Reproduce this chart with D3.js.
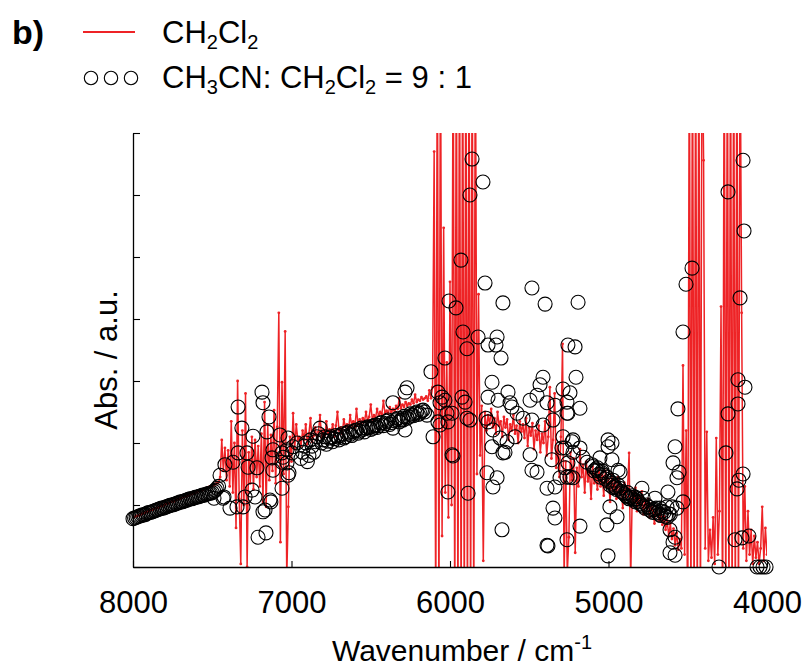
<!DOCTYPE html>
<html><head><meta charset="utf-8">
<script src="https://cdn.jsdelivr.net/npm/d3@7"></script>
<style>body{margin:0;background:#fff} svg{display:block} text{font-family:"Liberation Sans",Arial,Helvetica,sans-serif;fill:#000}</style>
</head><body><svg id="chart" width="804" height="668"></svg>
<script>
// ---------- data ----------
const xTicks = [8000, 7000, 6000, 5000, 4000];
const yTicks = [0, 1, 2, 3, 4, 5, 6, 7];
const redStart = 8000, redEnd = 4000, redStep = 10; // sampling grid of the CH2Cl2 spectrum (cm-1)

// CH2Cl2 spectrum values, in order of decreasing wavenumber
const red8000to7460 = [0.80,0.81,0.82,0.83,0.83,0.85,0.86,0.87,0.88,0.89,
 0.90,0.92,0.92,0.93,0.95,0.95,0.96,0.98,0.99,0.99,
 1.01,1.02,1.03,1.03,1.05,1.06,1.06,1.08,1.09,1.10,
 1.10,1.12,1.13,1.14,1.14,1.16,1.17,1.18,1.19,1.19,
 1.21,1.22,1.23,1.24,1.24,1.26,1.27,1.28,1.29,1.30,
 1.31,1.32,1.34,1.35,1.37];
const red7450to6960 = [1.45,2.05,1.55,1.92,1.40,1.88,1.30,2.35,1.20,2.00,
 0.63,3.00,1.10,0.05,2.20,1.00,2.80,0.00,1.85,1.35,
 2.10,1.25,2.05,1.45,1.95,1.30,2.15,1.05,2.66,0.97,
 2.30,1.40,2.13,1.55,2.53,1.35,2.26,4.10,0.40,2.98,
 1.50,3.80,-0.20,0.97,2.10,1.70,2.48,1.90,2.30,2.05];
const red6950to6110 = [2.10,1.95,2.20,2.05,2.30,1.98,2.15,2.40,2.02,2.12,
 2.25,2.05,2.18,2.45,2.08,2.20,2.12,2.35,2.15,2.22,
 2.18,2.30,2.10,2.28,2.50,2.20,2.25,2.15,2.38,2.26,
 2.30,2.22,2.45,2.28,2.35,2.25,2.55,2.30,2.38,2.32,
 2.40,2.34,2.50,2.36,2.42,2.62,2.38,2.45,2.40,2.55,
 2.44,2.50,2.46,2.68,2.48,2.52,2.47,2.58,2.50,2.55,
 2.52,2.60,2.55,2.72,2.56,2.62,2.58,2.66,2.60,2.64,
 2.62,2.70,2.64,2.78,2.66,2.70,2.68,2.74,2.70,2.72,
 2.75,2.68,2.85,2.72,2.90];
const red6100to5860 = [6.7,-1,9,-1,9,0.5,5.47,1.2,3.3,0.8,
 4.6,1.0,9,-1,9,-1,9,-1,9,-1,
 9,-1,9,-1,9];
const red5850to4540 = [-1,9,1.5,4.4,1.8,2.6,0.1,2.5,2.2,2.45,
 2.30,2.55,2.25,2.40,2.15,2.50,2.28,2.35,2.10,2.42,
 2.25,2.38,2.05,2.30,2.20,2.45,2.15,2.28,2.00,2.35,
 2.18,2.30,2.08,2.40,1.95,2.25,2.12,2.32,1.90,2.20,
 2.05,2.28,1.85,2.15,2.00,2.35,1.80,2.10,2.90,1.75,
 2.05,2.80,1.60,1.95,1.45,2.10,3.60,-0.2,1.70,-0.1,
 0.48,1.85,1.40,1.75,0.23,1.60,1.30,1.90,1.45,1.65,
 1.20,1.70,1.38,1.55,1.10,1.62,1.35,1.50,1.25,1.58,
 1.30,1.48,1.15,1.55,1.28,1.42,1.05,1.50,1.22,1.38,
 1.10,1.45,1.18,1.30,0.95,1.36,1.12,1.25,1.84,-0.2,
 1.20,1.05,1.28,0.90,1.15,1.00,1.22,0.85,1.08,0.95,
 1.10,0.80,1.02,0.92,0.70,0.98,0.85,0.75,0.95,0.68,
 0.82,0.60,0.75,0.50,0.70,0.45,0.62,0.35,0.55,0.28,
 0.45,0.30];
const red4530to4400 = [3.25,0.2,2.2,-1,9,-1,9,-1,9,-1,9,-1,9,6.56];
const red4390to4290 = [0.3,2.18,0.1,0.6,0.15,0.8,0.05,2.08,0.2,0.9,4.2];
const red4280to4160 = [-1,9,-1,9,-1,9,-1,9,-1,9,-1,9,4.1];
const red4150to4000 = [0.3,1.3,0.1,0.9,0.2,0.6,0.05,0.5,0.15,0.4,0.05,0.3,0.97,0.1,0.63,0.2];

// CH3CN : CH2Cl2 = 9 : 1 points  [wavenumber, value]
const circles8000to7460 = [[8000,0.78],[7990,0.79],[7980,0.80],[7970,0.81],[7960,0.82],[7950,0.83],[7940,0.84],
 [7930,0.84],[7920,0.85],[7910,0.87],[7900,0.88],[7890,0.88],[7880,0.89],[7870,0.90],[7860,0.91],[7850,0.92],
 [7840,0.93],[7830,0.94],[7820,0.95],[7810,0.95],[7800,0.96],[7790,0.97],[7780,0.98],[7770,0.99],[7760,1.00],
 [7750,1.00],[7740,1.01],[7730,1.02],[7720,1.03],[7710,1.04],[7700,1.05],[7690,1.05],[7680,1.06],[7670,1.07],
 [7660,1.08],[7650,1.09],[7640,1.10],[7630,1.10],[7620,1.11],[7610,1.12],[7600,1.13],[7590,1.13],[7580,1.14],
 [7570,1.15],[7560,1.16],[7550,1.16],[7540,1.17],[7530,1.18],[7520,1.19],[7510,1.19],[7500,1.20],[7490,1.22],
 [7480,1.24],[7470,1.27],[7460,1.30]];
const circles7490to6960 = [[7489,1.11],[7451,1.48],[7432,1.11],[7426,1.13],[7420,1.65],[7388,0.95],[7369,1.69],
 [7344,0.97],[7337,2.58],[7337,1.84],[7313,2.24],[7306,0.97],[7293,1.13],[7281,1.84],[7274,1.61],[7249,1.24],
 [7243,2.11],[7230,1.13],[7218,1.60],[7211,0.48],[7186,2.82],[7180,2.65],[7180,0.89],[7167,0.92],[7161,0.55],
 [7155,2.18],[7142,2.42],[7136,1.08],[7130,1.05],[7123,1.76],[7117,1.89],[7117,1.56],[7073,2.13],[7060,1.84],
 [7060,1.69],[7060,1.27],[7054,1.77],[7028,1.68],[7028,1.89],[7022,2.08],[7022,1.48],[7016,1.52],[6997,1.84],
 [6991,1.94],[6965,2.00]];
const circles6940to6160 = [[6940,1.75],[6930,1.85],[6920,1.95],[6910,2.00],[6900,1.70],[6890,1.80],[6880,2.05],
 [6870,1.95],[6860,1.85],[6850,2.02],[6840,2.10],[6830,2.15],[6820,2.24],[6810,2.00],[6800,2.05],[6790,2.10],
 [6780,1.98],[6770,2.03],[6760,2.08],[6750,2.10],[6740,2.02],[6730,2.07],[6720,2.12],[6710,2.10],[6700,2.05],
 [6690,2.12],[6680,2.15],[6670,2.08],[6660,2.10],[6650,2.16],[6640,2.18],[6630,2.14],[6620,2.12],[6610,2.18],
 [6600,2.20],[6590,2.21],[6580,2.16],[6570,2.19],[6560,2.24],[6550,2.22],[6540,2.18],[6530,2.24],[6520,2.26],
 [6510,2.25],[6500,2.22],[6490,2.27],[6486,2.24],[6480,2.28],[6470,2.29],[6460,2.25],[6450,2.28],[6440,2.32],
 [6430,2.33],[6420,2.28],[6410,2.31],[6400,2.35],[6390,2.37],[6380,2.30],[6370,2.33],[6360,2.24],[6360,2.65],
 [6350,2.36],[6340,2.38],[6330,2.40],[6320,2.34],[6310,2.37],[6300,2.40],[6297,2.37],[6290,2.43],[6284,2.21],
 [6284,2.82],[6271,2.89],[6270,2.40],[6260,2.42],[6250,2.47],[6240,2.45],[6230,2.44],[6220,2.48],[6210,2.50],
 [6200,2.46],[6190,2.48],[6180,2.52],[6170,2.53],[6160,2.50]];
const circles6150to5770 = [[6145,2.45],[6120,3.15],[6107,2.10],[6076,2.82],[6076,2.34],[6063,2.65],[6063,2.29],
 [6050,2.74],[6032,3.37],[6032,2.69],[6019,2.48],[6013,2.34],[6013,1.21],[6006,4.29],[5987,2.48],[5987,1.81],
 [5981,1.79],[5962,4.18],[5931,4.95],[5924,2.74],[5918,3.79],[5905,2.66],[5893,3.52],[5893,2.40],[5886,1.19],
 [5874,2.37],[5874,6.00],[5861,6.58],[5823,3.71],[5792,6.21],[5779,4.58],[5773,2.40]];
const circles5770to4540 = [[5767,1.52],[5760,3.58],[5760,2.74],[5760,2.34],[5735,2.98],[5735,1.94],[5729,2.21],
 [5729,1.29],[5710,3.58],[5703,3.71],[5703,1.44],[5697,2.69],[5684,2.08],[5678,3.37],[5672,0.60],[5666,4.26],
 [5666,1.84],[5653,1.85],[5640,2.02],[5634,2.82],[5621,2.65],[5609,2.58],[5590,2.10],[5577,2.48],[5539,2.40],
 [5495,2.69],[5495,1.81],[5483,4.50],[5483,2.37],[5483,1.56],[5451,2.77],[5451,1.53],[5432,2.94],[5413,3.06],
 [5413,2.29],[5400,4.24],[5388,2.65],[5388,1.27],[5388,0.35],[5382,0.34],[5357,1.73],[5350,2.37],[5350,0.95],
 [5338,2.61],[5338,1.29],[5338,0.79],[5306,1.44],[5294,1.92],[5287,2.87],[5287,2.10],[5274,1.92],[5274,1.60],
 [5262,2.66],[5262,2.48],[5262,1.45],[5262,0.44],[5256,3.58],[5256,2.48],[5256,1.68],[5243,2.81],[5243,1.45],
 [5230,2.02],[5224,2.05],[5224,1.85],[5224,1.44],[5211,3.55],[5205,3.06],[5192,4.27],[5180,2.56],[5180,1.92],
 [5180,0.66],[5161,1.77],[5136,1.69],[5104,1.65],[5100,1.62],[5090,1.55],[5080,1.58],[5073,1.56],[5070,1.60],
 [5060,1.50],[5054,1.76],[5050,1.45],[5041,1.52],[5040,1.55],[5030,1.48],[5020,1.42],[5010,1.45],[5010,0.68],
 [5003,2.05],[5003,1.94],[5003,0.18],[5000,1.38],[4991,0.97],[4990,1.32],[4980,1.35],[4978,2.00],[4978,1.73],
 [4972,1.40],[4970,1.28],[4960,1.30],[4959,1.29],[4950,1.25],[4946,0.81],[4940,1.56],[4940,1.32],[4930,1.27],
 [4927,1.53],[4920,1.22],[4910,1.20],[4900,1.18],[4890,1.15],[4883,1.13],[4880,1.20],[4870,1.10],[4864,1.13],
 [4860,1.12],[4850,1.15],[4840,1.08],[4833,1.13],[4830,1.05],[4820,1.10],[4810,1.05],[4800,1.02],[4790,1.00],
 [4789,1.27],[4782,1.11],[4780,0.98],[4770,0.95],[4760,1.00],[4750,0.97],[4740,0.92],[4730,0.90],[4720,0.88],
 [4719,0.92],[4710,0.93],[4707,1.11],[4700,0.95],[4690,0.88],[4680,0.85],[4675,0.95],[4670,0.83],[4660,0.90],
 [4650,0.88],[4640,0.82],[4631,0.97],[4630,0.80],[4625,1.21],[4620,0.86],[4612,0.60],[4612,0.23],[4610,0.85],
 [4599,0.97],[4593,1.68],[4593,0.40],[4580,1.94],[4580,0.48],[4580,0.19],[4568,1.44],[4568,0.95],[4562,2.55],
 [4555,1.53]];
const circles4530to4000 = [[4530,3.79],[4530,1.05],[4511,4.56],[4473,4.82],[4303,0.00],[4259,1.84],[4246,6.05],
 [4246,2.47],[4202,0.44],[4189,1.26],[4183,3.02],[4183,2.63],[4177,1.40],[4170,4.34],[4158,0.47],[4151,6.56],
 [4151,1.50],[4145,5.42],[4139,2.90],[4114,0.50],[4063,0.00],[4044,0.00],[4025,0.00],[4006,0.00]];

const legendLine = "CH2Cl2";
const legendCircles = "CH3CN: CH2Cl2 = 9 : 1";

// ---------- build ----------
const redValues = [].concat(red8000to7460, red7450to6960, red6950to6110, red6100to5860,
  red5850to4540, red4530to4400, red4390to4290, red4280to4160, red4150to4000);
const redWn = d3.range(redStart, redEnd - 1, -redStep);
const redData = redWn.map((w, i) => [w, redValues[i]]).filter(d => d[1] !== undefined);
const circleData = [].concat(circles8000to7460, circles7490to6960, circles6940to6160,
  circles6150to5770, circles5770to4540, circles4530to4000);

const pLeft = 133, pRight = 767, pTop = 133, pBottom = 567;
const RED = "#ee2326";

const svg = d3.select("#chart");
const x = d3.scaleLinear().domain([8000, 4000]).range([pLeft, pRight]);
const y = d3.scaleLinear().domain([0, 7]).range([pBottom, pTop]);

svg.append("defs").append("clipPath").attr("id", "plotclip")
  .append("rect").attr("x", pLeft).attr("y", pTop).attr("width", pRight - pLeft).attr("height", pBottom - pTop);

const plot = svg.append("g").attr("clip-path", "url(#plotclip)");
plot.append("path").datum(redData)
  .attr("d", d3.line().x(d => x(d[0])).y(d => y(d[1])))
  .attr("fill", "none").attr("stroke", RED).attr("stroke-width", 1.5).attr("stroke-linejoin", "round");
plot.selectAll("circle.rd").data(redData).join("circle").attr("class", "rd")
  .attr("cx", d => x(d[0])).attr("cy", d => y(d[1])).attr("r", 1.4).attr("fill", RED);

svg.append("g").selectAll("circle").data(circleData.filter(d => d[1] <= 7.2)).join("circle")
  .attr("cx", d => x(d[0])).attr("cy", d => y(d[1])).attr("r", 7)
  .attr("fill", "none").attr("stroke", "#000").attr("stroke-width", 1.1);

// axes
const xAxis = d3.axisBottom(x).tickValues(xTicks).tickSizeInner(-6).tickSizeOuter(0).tickPadding(24)
  .tickFormat(d3.format("d"));
const gx = svg.append("g").attr("transform", `translate(0,${pBottom})`).call(xAxis);
gx.selectAll("text").attr("font-size", 31).attr("font-family", '"Liberation Sans",Arial,sans-serif');
const yAxis = d3.axisRight(y).tickValues(yTicks).tickSizeInner(7).tickSizeOuter(0).tickFormat("");
const gy = svg.append("g").attr("transform", `translate(${pLeft},0)`).call(yAxis);
[gx, gy].forEach(g => {
  g.select(".domain").attr("stroke", "#000").attr("stroke-width", 1.3);
  g.selectAll(".tick line").attr("stroke", "#000").attr("stroke-width", 1.1);
});

// axis titles
const xt = svg.append("text").attr("x", 462).attr("y", 661).attr("text-anchor", "middle").attr("font-size", 30);
xt.append("tspan").text("Wavenumber / cm");
xt.append("tspan").attr("font-size", 20).attr("dy", -12).text("-1");
svg.append("text").attr("transform", "translate(117,360) rotate(-90)")
  .attr("text-anchor", "middle").attr("font-size", 31).text("Abs. / a.u.");

// legend
svg.append("text").attr("x", 12).attr("y", 44).attr("font-size", 34).attr("font-weight", "bold").text("b)");
svg.append("line").attr("x1", 83).attr("x2", 135).attr("y1", 32).attr("y2", 32)
  .attr("stroke", RED).attr("stroke-width", 2);
function chemText(str, xx, yy) {
  const t = svg.append("text").attr("x", xx).attr("y", yy).attr("font-size", 31);
  const parts = str.match(/[A-Za-z][0-9]|[^]/g);
  let buf = "", pendingDy = 0;
  const flush = () => {
    if (buf) { const s = t.append("tspan").text(buf); if (pendingDy) s.attr("dy", pendingDy); pendingDy = 0; buf = ""; }
  };
  parts.forEach(p => {
    if (p.length === 2) {
      buf += p[0]; flush();
      t.append("tspan").attr("font-size", 20).attr("dy", 6).text(p[1]);
      pendingDy = -6;
    } else buf += p;
  });
  flush();
}
chemText(legendLine, 162, 43);
[91, 111, 131].forEach(cx => svg.append("circle").attr("cx", cx).attr("cy", 78).attr("r", 6.7)
  .attr("fill", "none").attr("stroke", "#000").attr("stroke-width", 1.1));
chemText(legendCircles, 162, 88);
</script></body></html>
